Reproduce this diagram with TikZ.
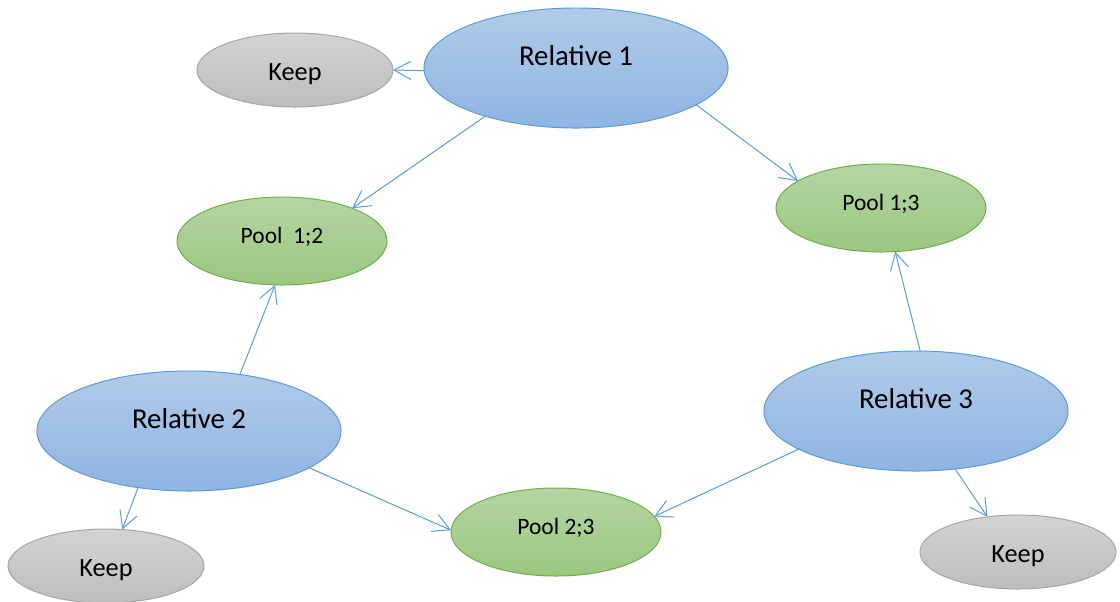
\documentclass[tikz,border=0pt]{standalone}
\usepackage{fontspec}
\setmainfont{Carlito}
\usepackage{tikz}
\usetikzlibrary{arrows.meta,shapes.geometric}

\definecolor{relline}{HTML}{5B9BD5}
\definecolor{reltop}{HTML}{B1CBE9}
\definecolor{relbot}{HTML}{8EB4E2}
\definecolor{poolline}{HTML}{70AD47}
\definecolor{pooltop}{HTML}{B5D5A4}
\definecolor{poolbot}{HTML}{9AC77F}
\definecolor{keepline}{HTML}{A5A5A5}
\definecolor{keeptop}{HTML}{D3D3D3}
\definecolor{keepbot}{HTML}{BDBDBD}

\tikzset{
  relative/.style={ellipse,draw=relline,line width=0.7pt,top color=reltop,bottom color=relbot,
    minimum width=7.6cm,minimum height=3cm,inner sep=0pt,outer sep=0pt,
    text height=10pt,text depth=14pt,font=\fontsize{20.5}{24}\selectfont},
  pool/.style={ellipse,draw=poolline,line width=0.7pt,top color=pooltop,bottom color=poolbot,
    minimum width=5.25cm,minimum height=2.2cm,inner sep=0pt,outer sep=0pt,
    text height=9pt,text depth=6pt,font=\fontsize{16.7}{20}\selectfont},
  keep/.style={ellipse,draw=keepline,line width=0.7pt,top color=keeptop,bottom color=keepbot,
    minimum width=4.9cm,minimum height=1.85cm,inner sep=0pt,outer sep=0pt,
    text height=17pt,text depth=2pt,font=\fontsize{18.7}{22}\selectfont},
  link/.style={color=relline,line width=0.7pt,-{Straight Barb[length=12pt,width=13pt]}}
}

\begin{document}
\begin{tikzpicture}[x=0.025cm,y=-0.025cm]
  \useasboundingbox (0,0) rectangle (1120,601);
  \node[relative] (rel1) at (576,68) {Relative 1};
  \node[relative] (rel2) at (189,431) {Relative 2};
  \node[relative] (rel3) at (916,411) {Relative 3};
  \node[pool] (pool12) at (282,241) {Pool\ \ 1;2};
  \node[pool] (pool13) at (881,208) {Pool 1;3};
  \node[pool] (pool23) at (556,532) {Pool 2;3};
  \node[keep] (keep1) at (295,70) {Keep};
  \node[keep] (keep2) at (106,566) {Keep};
  \node[keep] (keep3) at (1018,552) {Keep};
  \path[link]
    (rel1.181) edge (keep1.0)
    (rel1.208) edge (pool12.25)
    (rel1.-17) edge (pool13.162)
    (rel2.48)  edge (pool12.-99)
    (rel2.-17) edge (pool23.179)
    (rel2.228) edge (keep2.66)
    (rel3.86)  edge (pool13.-72)
    (rel3.198) edge (pool23.9)
    (rel3.304) edge (keep3.131);
\end{tikzpicture}
\end{document}
